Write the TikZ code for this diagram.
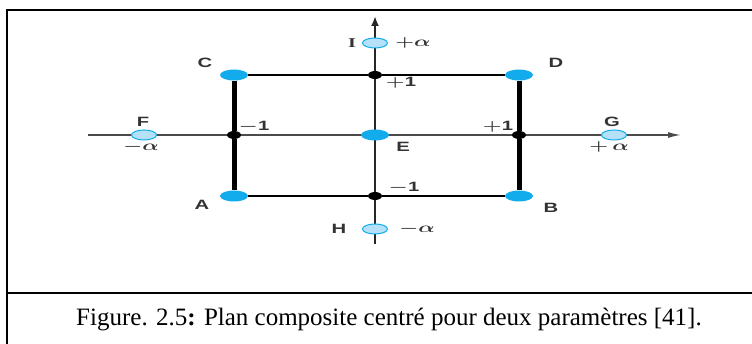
\documentclass[tikz,border=0pt]{standalone}
\usepackage{fontspec}
\setmainfont{Liberation Serif}
\setsansfont{Liberation Sans}
\usetikzlibrary{shapes.geometric,arrows.meta}
\definecolor{ptblue}{RGB}{18,172,236}
\definecolor{axblue}{RGB}{180,225,248}
\definecolor{axgray}{RGB}{75,75,75}
\newcommand{\widetxt}[1]{\scalebox{1.5}[1]{#1}}
\tikzset{
	pt/.style={ellipse, fill=ptblue, minimum width=28pt, minimum height=11pt, inner sep=0pt},
	axpt/.style={ellipse, draw=ptblue, fill=axblue, line width=1pt, minimum width=25pt, minimum height=10pt, inner sep=0pt},
	knot/.style={ellipse, fill=black, minimum width=14pt, minimum height=8pt, inner sep=0pt},
	lab/.style={font=\sffamily\bfseries\boldmath\fontsize{13.5}{13.5}\selectfont, text=black!80, inner sep=0pt},
}

\begin{document}
\begin{tikzpicture}[x=1pt,y=-1pt]
			%%%%% START %%%%%
			\useasboundingbox (0,0) rectangle (752,344);
			
			% frame
			\draw[line width=2pt] (7,344) -- (7,10) -- (752,10);
			\draw[line width=2pt] (7,293) -- (752,293);
			
			% axes
			\coordinate (xl) at (88,135);
			\coordinate (xr) at (681,135);
			\coordinate (yb) at (375,244);
			\coordinate (yt) at (375,16);
			\draw[line width=1.6pt, color=axgray, -{Latex[length=13pt,width=6pt]}] (xl) -- (xr);
			\draw[line width=2pt, color=black!85, -{Latex[length=10pt,width=8pt]}] (yb) -- (yt);
			
			% points of the plan
			\node[knot] (up) at (375,75) {};
			\node[knot] (dn) at (375,196) {};
			\node[knot] (lf) at (234,135) {};
			\node[knot] (rt) at (519,135) {};
			
			\node[pt] (A) at (234,196) {};
			\node[pt] (B) at (519,196) {};
			\node[pt] (C) at (234,75) {};
			\node[pt] (D) at (519,75) {};
			\node[pt] (E) at (375,135) {};
			
			\node[axpt] (F) at (144,135) {};
			\node[axpt] (G) at (614,135) {};
			\node[axpt] (I) at (375,43) {};
			\node[axpt] (H) at (375,229) {};
			
			\draw[line width=2pt] (C) -- (up) -- (D);
			\draw[line width=2pt] (A) -- (dn) -- (B);
			\draw[line width=5pt] (C) -- (lf) -- (A);
			\draw[line width=5pt] (D) -- (rt) -- (B);
			
			% labels
			\node[lab] (lA) at (202,205) {\widetxt{A}};
			\node[lab] (lB) at (551,208) {\widetxt{B}};
			\node[lab] (lC) at (205,63) {\widetxt{C}};
			\node[lab] (lD) at (556,63) {\widetxt{D}};
			\node[lab] (lE) at (403,147) {\widetxt{E}};
			\node[lab] (lF) at (143,122) {\widetxt{F}};
			\node[lab] (lG) at (612,122) {\widetxt{G}};
			\node[lab] (lI) at (352,43) {\widetxt{\rmfamily I}};
			\node[lab] (lH) at (339,229) {\widetxt{H}};
			
			\node[lab] (aF) at (141,147) {\widetxt{$-\alpha$}};
			\node[lab] (aG) at (609,147) {\widetxt{$+\,\alpha$}};
			\node[lab] (aI) at (413,43) {\widetxt{$+\alpha$}};
			\node[lab] (aH) at (417,229) {\widetxt{$-\alpha$}};
			
			\node[lab] (vup) at (401,83) {\widetxt{$+$1}};
			\node[lab] (vdn) at (404,188) {\widetxt{$-$1}};
			\node[lab] (vlf) at (254,127) {\widetxt{$-$1}};
			\node[lab] (vrt) at (498,127) {\widetxt{$+$1}};
			
			% caption
			\node[font=\fontsize{25}{25}\selectfont, anchor=base] (cap) at (389,326) {Figure. 2.5\textbf{:} Plan composite centré pour deux paramètres [41].};
			%%%%% END %%%%%
\end{tikzpicture}
\end{document}
